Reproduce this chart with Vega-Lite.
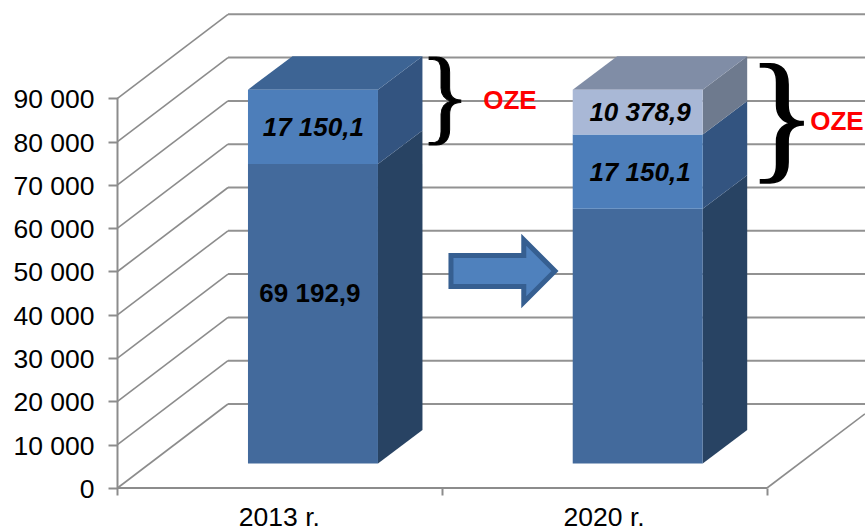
{"$schema":"https://vega.github.io/schema/vega-lite/v6.json","width":865,"height":528,"padding":0,"autosize":"none","background":"white","view":{"stroke":null},
"datasets":{"grid":[{"v":0},{"v":10000},{"v":20000},{"v":30000},{"v":40000},{"v":50000},{"v":60000},{"v":70000},{"v":80000},{"v":90000}],
"segments":[{"cat":0,"segment":"base","low":0,"high":69192.9,"label":"69 192,9"},{"cat":0,"segment":"mid","low":69192.9,"high":86343,"label":"17 150,1"},{"cat":1,"segment":"base","low":0,"high":58814,"label":""},{"cat":1,"segment":"mid","low":58814,"high":75964.1,"label":"17 150,1"},{"cat":1,"segment":"light","low":75964.1,"high":86343,"label":"10 378,9"}]},
"encoding":{"x":{"field":"x","type":"quantitative","title":null,"scale":{"domain":[-0.3618,2.3018],"nice":false,"zero":false},"axis":{"orient":"bottom","offset":-40,"values":[0,0.5,1,1.5,2],"grid":false,"domain":false,"tickColor":"#8c8c8c","tickWidth":2,"tickSize":7,"tickOpacity":{"condition":{"test":"datum.value%1==0","value":1},"value":0},"labelExpr":"datum.value==0.5?'2013 r.':datum.value==1.5?'2020 r.':''","labelFont":"Liberation Sans","labelFontSize":26.5,"labelColor":"#000000","labelPadding":9,"labelOffset":-1,"labelOverlap":false,"labelFlush":false}},
"y":{"field":"y","type":"quantitative","title":null,"scale":{"domain":[-9238,112702],"nice":false,"zero":false},"axis":{"orient":"left","offset":-117.5,"values":[0,10000,20000,30000,40000,50000,60000,70000,80000,90000],"grid":false,"domain":false,"tickColor":"#8c8c8c","tickWidth":2,"tickSize":9.5,"labelExpr":"replace(format(datum.value,','),',',' ')","labelFont":"Liberation Sans","labelFontSize":26.5,"labelColor":"#000000","labelPadding":14,"labelOffset":1.5,"labelOverlap":false,"labelFlush":false}}},
"layer":[
{"data":{"name":"grid"},"transform":[{"calculate":"0","as":"x"},{"calculate":"0.3403","as":"x2"},{"calculate":"datum.v","as":"y"},{"calculate":"datum.v+19400","as":"y2"}],"mark":{"type":"rule","color":"#8c8c8c","strokeWidth":1.6},"encoding":{"x2":{"field":"x2"},"y2":{"field":"y2"}}},
{"data":{"name":"grid"},"transform":[{"calculate":"0.3403","as":"x"},{"calculate":"2.3018","as":"x2"},{"calculate":"datum.v+19400","as":"y"}],"mark":{"type":"rule","color":"#929292","strokeWidth":2},"encoding":{"x2":{"field":"x2"}}},
{"data":{"values":[{"x":0,"x2":2,"y":0}]},"mark":{"type":"rule","color":"#8c8c8c","strokeWidth":2},"encoding":{"x2":{"field":"x2"}}},
{"data":{"values":[{"x":2,"x2":2.3018,"y":0,"y2":17140}]},"mark":{"type":"rule","color":"#8c8c8c","strokeWidth":1.6},"encoding":{"x2":{"field":"x2"},"y2":{"field":"y2"}}},
{"data":{"values":[{"x":0,"y":0,"y2":90000}]},"mark":{"type":"rule","color":"#8c8c8c","strokeWidth":2},"encoding":{"y2":{"field":"y2"}}},
{"data":{"name":"segments"},"transform":[{"calculate":"[0,1]","as":"d"},{"flatten":["d"]},{"calculate":"datum.cat+0.8021+datum.d*0.137","as":"x"},{"calculate":"datum.high+5658+datum.d*7737","as":"y"},{"calculate":"datum.low+5658+datum.d*7737","as":"y2"}],"mark":{"type":"area","interpolate":"linear"},"encoding":{"y2":{"field":"y2"},"detail":{"field":"cat"},"fill":{"field":"segment","type":"nominal","legend":null,"scale":{"domain":["base","mid","light"],"range":["#284363","#335480","#6E7A8E"]}}}},
{"data":{"name":"segments"},"transform":[{"filter":"datum.high>86000"},{"calculate":"[0,1]","as":"d"},{"flatten":["d"]},{"calculate":"datum.cat+0.4018+datum.d*0.137","as":"x"},{"calculate":"datum.cat+0.8021+datum.d*0.137","as":"x2"},{"calculate":"datum.high+5658+datum.d*7737","as":"y"}],"mark":{"type":"area","orient":"horizontal","interpolate":"linear"},"encoding":{"x2":{"field":"x2"},"detail":{"field":"cat"},"fill":{"field":"segment","type":"nominal","legend":null,"scale":{"domain":["mid","light"],"range":["#3D6494","#808DA6"]}}}},
{"data":{"name":"segments"},"transform":[{"calculate":"datum.cat+0.4018","as":"x"},{"calculate":"datum.cat+0.8021","as":"x2"},{"calculate":"datum.high+5658","as":"y"},{"calculate":"datum.low+5658","as":"y2"}],"mark":{"type":"rect"},"encoding":{"x2":{"field":"x2"},"y2":{"field":"y2"},"fill":{"field":"segment","type":"nominal","legend":null,"scale":{"domain":["base","mid","light"],"range":["#436A9C","#4D7EBA","#A9B8D6"]}}}},
{"data":{"name":"segments"},"transform":[{"filter":"datum.segment!='base'"},{"calculate":"datum.cat*1.006+0.603","as":"x"},{"calculate":"(datum.low+datum.high)/2+5658","as":"y"}],"mark":{"type":"text","font":"Liberation Sans","fontSize":26,"fontWeight":"bold","fontStyle":"italic","color":"#000000","baseline":"middle","dy":1},"encoding":{"text":{"field":"label"}}},
{"data":{"name":"segments"},"transform":[{"filter":"datum.segment=='base'&&datum.label!=''"},{"calculate":"datum.cat+0.6019","as":"x"},{"calculate":"(datum.low+datum.high)/2+5658","as":"y"}],"mark":{"type":"text","font":"Liberation Sans","fontSize":26,"fontWeight":"bold","color":"#000000","baseline":"middle","dy":-20,"dx":-3},"encoding":{"text":{"field":"label"}}},
{"data":{"values":[{"name":"arrow","x":1.187,"y":50115}]},"mark":{"type":"point","filled":true,"fill":"#4F81BD","stroke":"#365F91","strokeWidth":5,"strokeOpacity":1,"fillOpacity":1,"opacity":1,"strokeJoin":"miter","size":10816,"shape":"M -1 -0.3 L 0.4 -0.3 L 0.4 -0.6 L 1 0 L 0.4 0.6 L 0.4 0.3 L -1 0.3 Z"}},
{"data":{"values":[{"t":"}","x":1.0085,"y":89900}]},"mark":{"type":"text","font":"Liberation Serif","fontSize":106,"color":"#000000","stroke":"#000000","strokeWidth":1,"baseline":"middle"},"encoding":{"text":{"field":"t"}}},
{"data":{"values":[{"t":"}","x":2.046,"y":84800}]},"mark":{"type":"text","font":"Liberation Serif","fontSize":143,"color":"#000000","stroke":"#000000","strokeWidth":1.5,"baseline":"middle"},"encoding":{"text":{"field":"t"}}},
{"data":{"values":[{"t":"OZE","x":1.2086,"y":89300},{"t":"OZE","x":2.2155,"y":84500}]},"mark":{"type":"text","font":"Liberation Sans","fontSize":26,"fontWeight":"bold","color":"#FF0000","baseline":"middle"},"encoding":{"text":{"field":"t"}}}
],
"resolve":{"scale":{"fill":"independent"}}}
